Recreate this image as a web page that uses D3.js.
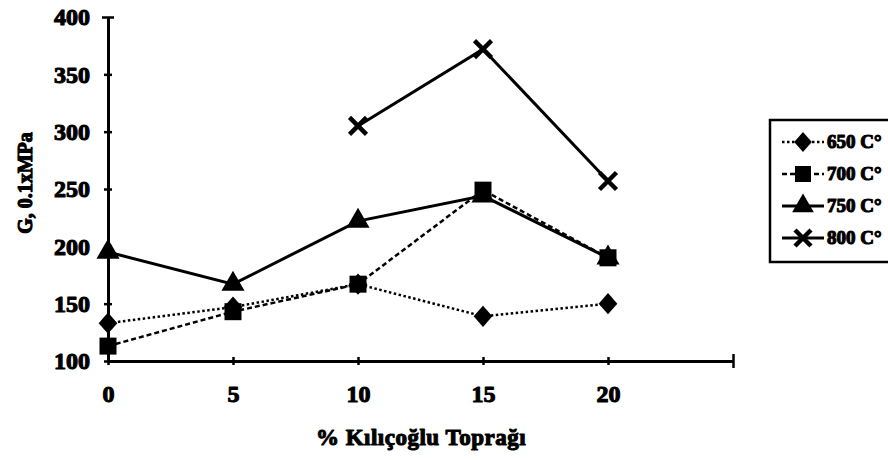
<!DOCTYPE html>
<html>
<head>
<meta charset="utf-8">
<script src="https://cdn.jsdelivr.net/npm/d3@7"></script>
<style>
  body { margin: 0; background: #fff; overflow: hidden; }
  svg { display: block; }
  .lbl { font-family: "Liberation Serif", "Times New Roman", serif; font-weight: bold; fill: #000; stroke: #000; stroke-width: 1.1px; stroke-linejoin: round; }
</style>
</head>
<body>
<div id="chart"></div>
<script>
// data
var xValues = [0, 5, 10, 15, 20];
var s650 = [133, 147, 167, 139, 150];
var s700 = [113, 143, 167, 249, 190];
var s750 = [195, 167, 222, 244, 190];
var s800 = [null, null, 305, 372, 257];
var seriesNames = ["650 C°", "700 C°", "750 C°", "800 C°"];
var yTicks = [100, 150, 200, 250, 300, 350, 400];
var xTicks = [0, 5, 10, 15, 20];

var width = 888;
var height = 460;

var svg = d3.select("#chart")
  .append("svg")
  .attr("width", width)
  .attr("height", height);

var xScale = d3.scaleLinear().domain([0, 25]).range([108, 733]);
var yScale = d3.scaleLinear().domain([100, 400]).range([361, 17]);

var series = [
  { name: seriesNames[0], values: s650, dash: "2.5,2.5", width: 2.5, marker: "diamond" },
  { name: seriesNames[1], values: s700, dash: "5,3", width: 2.5, marker: d3.symbolSquare },
  { name: seriesNames[2], values: s750, dash: null, width: 3, marker: d3.symbolTriangle },
  { name: seriesNames[3], values: s800, dash: null, width: 3, marker: "x" }
];

// y axis
var yAxis = d3.axisLeft(yScale).tickValues(yTicks).tickSize(0).tickPadding(18);
var yG = svg.append("g")
  .attr("class", "yAxis")
  .attr("transform", "translate(" + xScale(0) + ",0)")
  .call(yAxis);
yG.select(".domain").attr("stroke", "#000").attr("stroke-width", 3);
yG.selectAll(".tick line")
  .attr("x1", function(d) { return d === 400 ? -6 : -4; })
  .attr("x2", function(d) { return d === 400 ? 6 : 4; })
  .attr("stroke", "#000").attr("stroke-width", 2.5);
yG.selectAll(".tick text").attr("class", "lbl").style("font-size", "24px");

// x axis
var xAxis = d3.axisBottom(xScale).tickValues(xTicks.concat([25]))
  .tickFormat(function(d) { return d === 25 ? "" : d; })
  .tickSize(0).tickPadding(24);
var xG = svg.append("g")
  .attr("class", "xAxis")
  .attr("transform", "translate(0," + yScale(100) + ")")
  .call(xAxis);
xG.select(".domain").attr("stroke", "#000").attr("stroke-width", 3);
xG.selectAll(".tick line")
  .attr("y1", function(d) { return d === 25 ? -7 : -4; })
  .attr("y2", function(d) { return d === 25 ? 7 : 4; })
  .attr("stroke", "#000").attr("stroke-width", 2.5);
xG.selectAll(".tick text").attr("class", "lbl").style("font-size", "24px");

// axis titles
svg.append("text")
  .attr("class", "lbl")
  .attr("x", 421)
  .attr("y", 445)
  .attr("text-anchor", "middle")
  .style("font-size", "23px")
  .style("letter-spacing", "0.5px")
  .text("% Kılıçoğlu Toprağı");

svg.append("text")
  .attr("class", "lbl")
  .attr("transform", "translate(32,183)rotate(-90)")
  .attr("text-anchor", "middle")
  .style("font-size", "20px")
  .text("G, 0.1xMPa");

function drawMarker(g, type, x, y, size) {
  var h = size / 2;
  if (type === "x") {
    g.append("path")
      .attr("d", "M" + (x - h) + "," + (y - h) + "L" + (x + h) + "," + (y + h) +
        "M" + (x - h) + "," + (y + h) + "L" + (x + h) + "," + (y - h))
      .attr("stroke", "#000").attr("stroke-width", 4.5).attr("fill", "none");
  } else if (type === "diamond") {
    var w = h * 1.1, v = h * 1.25;
    g.append("path")
      .attr("d", "M" + x + "," + (y - v) + "L" + (x + w) + "," + y +
        "L" + x + "," + (y + v) + "L" + (x - w) + "," + y + "Z")
      .attr("fill", "#000");
  } else {
    var area = type === d3.symbolSquare ? size * size : size * size * 0.8;
    g.append("path")
      .attr("d", d3.symbol().type(type).size(area)())
      .attr("transform", "translate(" + x + "," + y + ")")
      .attr("fill", "#000");
  }
}

var line = d3.line()
  .defined(function(d) { return d[1] !== null; })
  .x(function(d) { return xScale(d[0]); })
  .y(function(d) { return yScale(d[1]); });

series.forEach(function(s) {
  var pts = xValues.map(function(x, i) { return [x, s.values[i]]; });
  svg.append("path")
    .datum(pts)
    .attr("d", line)
    .attr("fill", "none")
    .attr("stroke", "#000")
    .attr("stroke-width", s.width)
    .attr("stroke-dasharray", s.dash);
  var mg = svg.append("g");
  pts.forEach(function(p) {
    if (p[1] === null) return;
    drawMarker(mg, s.marker, xScale(p[0]), yScale(p[1]), 17);
  });
});

// legend
var legend = svg.append("g").attr("class", "legend");
legend.append("rect")
  .attr("x", 770).attr("y", 120)
  .attr("width", 140).attr("height", 142)
  .attr("fill", "#fff").attr("stroke", "#000").attr("stroke-width", 2.5);

series.forEach(function(s, i) {
  var cy = 142 + i * 32;
  legend.append("line")
    .attr("x1", 782).attr("x2", 824)
    .attr("y1", cy).attr("y2", cy)
    .attr("stroke", "#000")
    .attr("stroke-width", s.width)
    .attr("stroke-dasharray", s.dash);
  drawMarker(legend, s.marker, 803, cy, 16);
  legend.append("text")
    .attr("class", "lbl")
    .attr("x", 827).attr("y", cy + 6)
    .style("font-size", "19px")
    .text(s.name);
});
</script>
</body>
</html>
